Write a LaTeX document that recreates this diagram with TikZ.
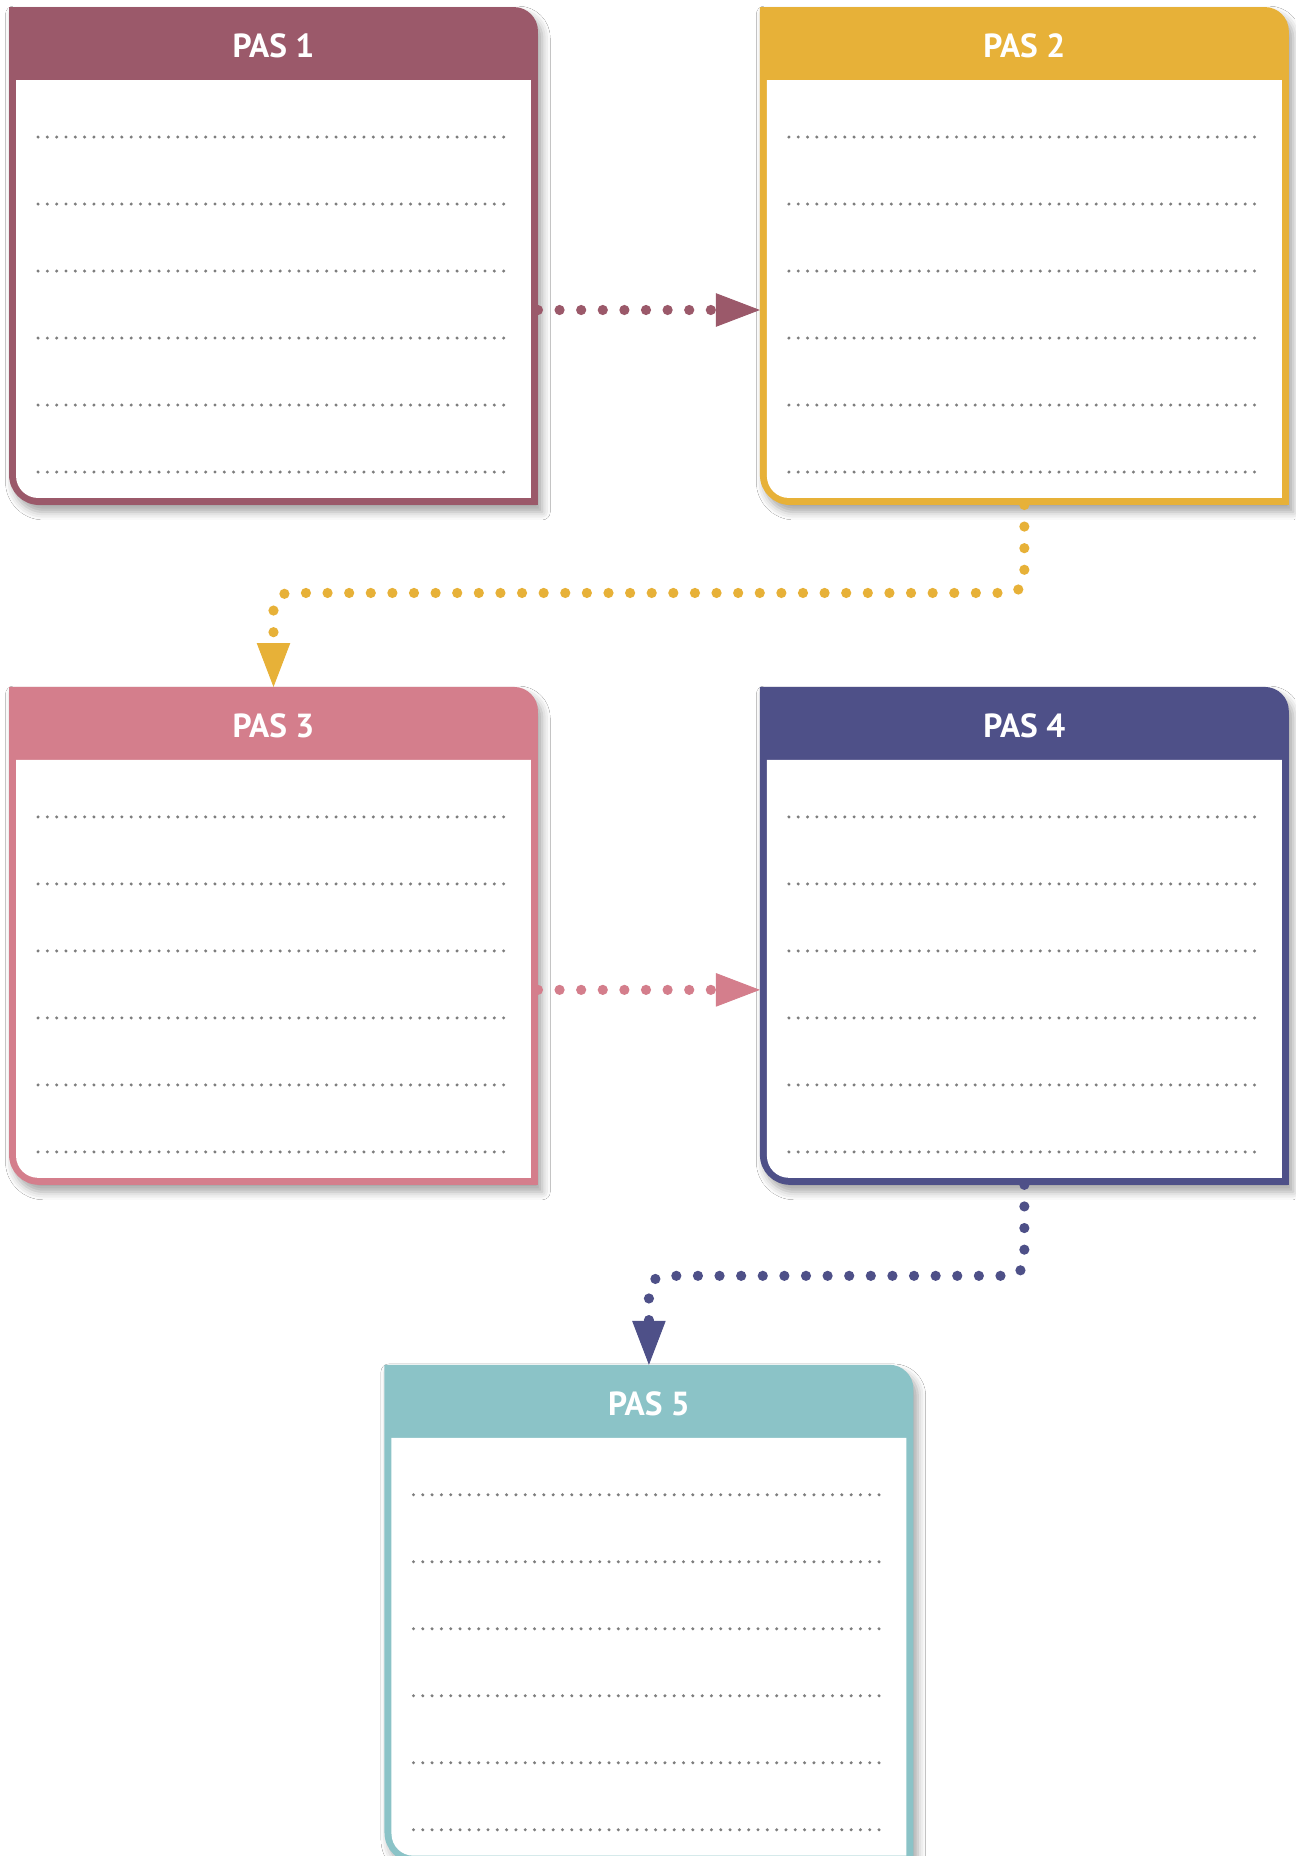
\documentclass[tikz,border=0pt]{standalone}
\usepackage{fontspec}
\setmainfont{PT Sans}
\usetikzlibrary{positioning,calc,arrows.meta,shadows.blur}
\definecolor{pasA}{RGB}{155,89,106}
\definecolor{pasB}{RGB}{231,177,56}
\definecolor{pasC}{RGB}{212,126,140}
\definecolor{pasD}{RGB}{78,80,136}
\definecolor{pasE}{RGB}{139,195,199}
\definecolor{dotgray}{RGB}{125,125,125}
\tikzset{
  panel/.style={rectangle, inner sep=0pt, outer sep=0pt, minimum width=10.58cm, minimum height=9.96cm},
  title/.style={text=white, font=\fontsize{19}{22}\selectfont\bfseries},
  ruled/.style={draw=dotgray, line width=1.9pt, line cap=round, dash pattern=on 0pt off 5.3pt},
  link/.style={line width=5.8pt, line cap=round, dash pattern=on 0pt off 12.3pt,
    -{Triangle[length=25pt,width=19pt,line width=0.5pt]}},
}

\begin{document}
\begin{tikzpicture}[x=0.02cm, y=0.02cm]
  \useasboundingbox (0,0) rectangle (1295,-1856);
  \fill[white] (0,0) rectangle (1295,-1856);
  % the five steps
  \node[panel] (p1) at (273.5,-256) {};
  \node[panel, right=4.44cm of p1] (p2) {};
  \node[panel, below=3.64cm of p1] (p3) {};
  \node[panel, right=4.44cm of p3] (p4) {};
  \coordinate (mid) at ($(p3.south)!.5!(p4.south)$);
  \node[panel, below=3.6cm of mid] (p5) {};
  \foreach \n/\c/\t in {p1/pasA/1,p2/pasB/2,p3/pasC/3,p4/pasD/4,p5/pasE/5}{
    \fill[\c, blur shadow={shadow xshift=2.5pt, shadow yshift=-4pt, shadow blur radius=4.5pt, shadow opacity=35}]
      (\n.north west) -- ($(\n.north east)+(-24,0)$) arc[start angle=90, end angle=0, radius=24]
      -- (\n.south east) -- ($(\n.south west)+(30,0)$) arc[start angle=270, end angle=180, radius=30] -- cycle;
    \fill[white] ($(\n.north west)+(7,-73)$) -- ($(\n.north east)+(-7,-73)$) -- ($(\n.south east)+(-7,7)$)
      -- ($(\n.south west)+(29,7)$) arc[start angle=270, end angle=180, radius=22] -- cycle;
    \node[title] (t\t) at ($(\n.north)+(0,-39)$) {PAS \t};
    \foreach \k in {0,...,5}
      \draw[ruled] ($(\n.north west)+(29,-130-67*\k)$) -- ++(468,0);
  }
  % links
  \coordinate (a1) at ($(p1.east)+(0,-54)$);
  \draw[link, pasA] (a1) -- (a1 -| p2.west);
  \coordinate (a3) at ($(p3.east)+(0,-54)$);
  \draw[link, pasC] (a3) -- (a3 -| p4.west);
  \draw[link, pasB, rounded corners=9pt] (p2.south) -- ++(0,-88) -| (p3.north);
  \draw[link, pasD, rounded corners=9pt] (p4.south) -- ++(0,-91) -| (p5.north);
\end{tikzpicture}
\end{document}
